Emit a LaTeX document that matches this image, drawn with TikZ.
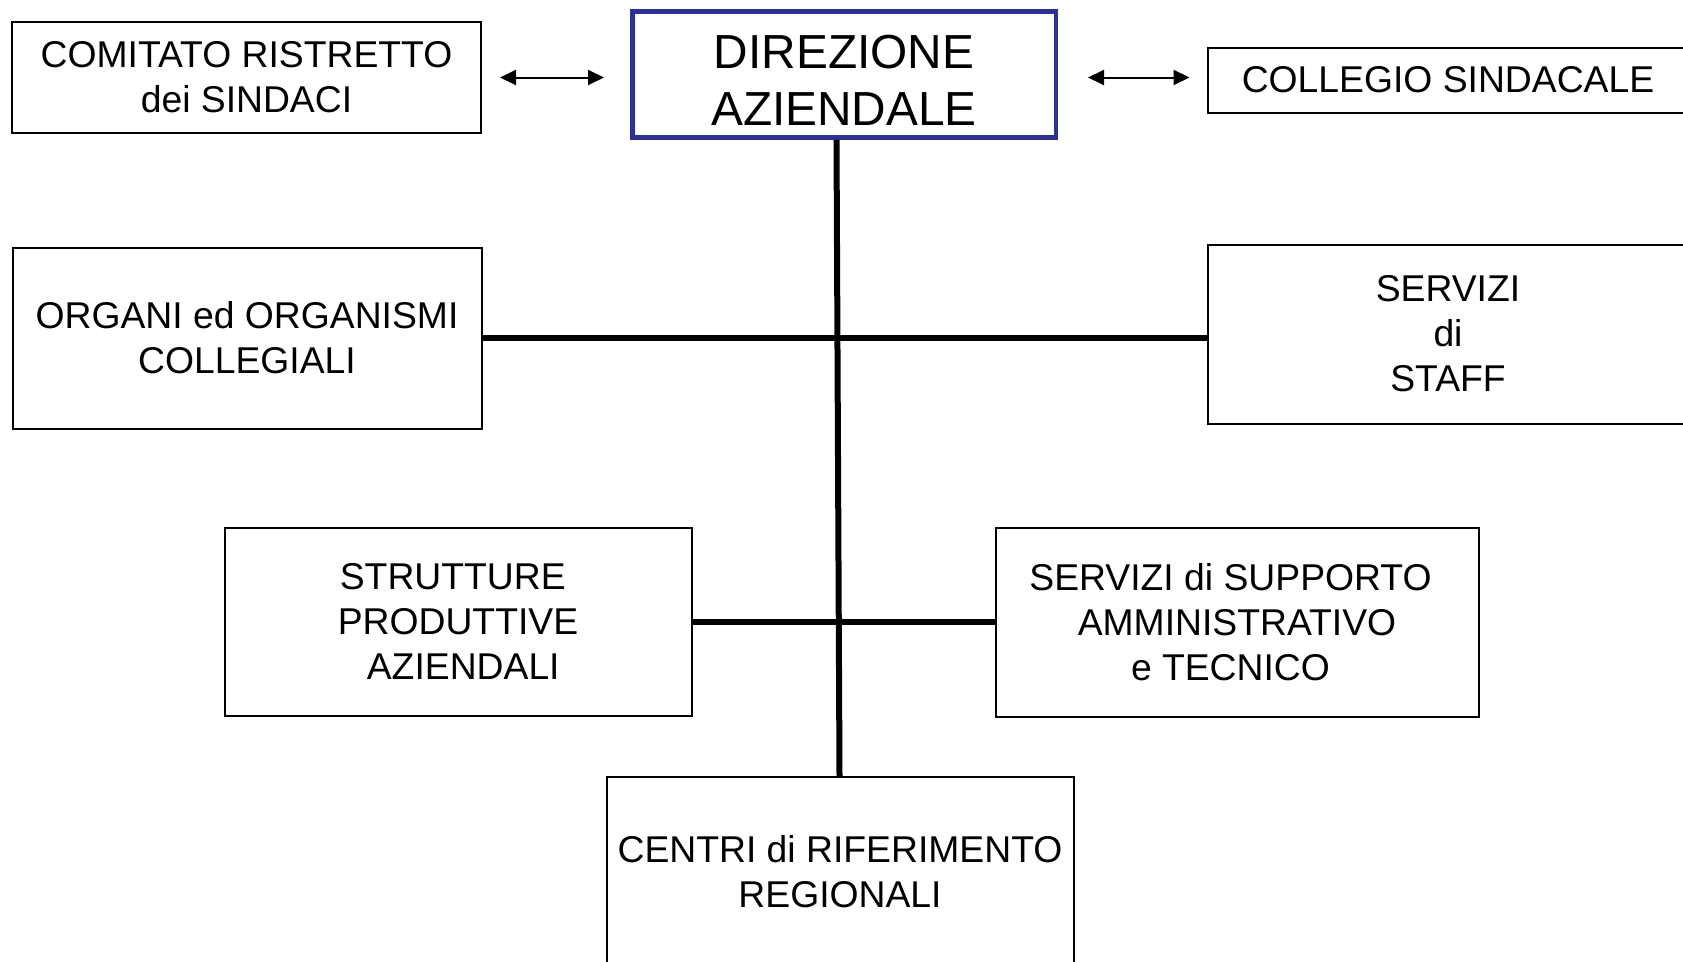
\documentclass[tikz,border=0pt]{standalone}
\usepackage{fontspec}
\setmainfont{Liberation Sans}
\usetikzlibrary{arrows.meta,calc}
\definecolor{navyline}{RGB}{46,49,146}
\begin{document}
\begin{tikzpicture}[x=1pt,y=-1pt,
  box/.style={draw, line width=2pt, inner sep=0pt, align=center,
    font=\fontsize{37.3}{45}\selectfont},
  mainbox/.style={draw=navyline, line width=4.5pt, inner sep=0pt, align=center,
    font=\fontsize{47.8}{57}\selectfont},
  conn/.style={line width=6pt},
  arr/.style={line width=2pt,
    {Triangle[length=16pt,width=15pt]}-{Triangle[length=16pt,width=15pt]}}]
\useasboundingbox (0,0) rectangle (1683,961);

\node[mainbox, minimum width=423.5pt, minimum height=126pt] (dir) at (844,74.7)
  {\rule{0pt}{45pt}DIREZIONE\\AZIENDALE};
\node[box, minimum width=469pt, minimum height=111pt] (com) at (246.5,77.5)
  {COMITATO RISTRETTO\\dei SINDACI};
\node[box, minimum width=481pt, minimum height=65pt] (col) at (1448,80)
  {COLLEGIO SINDACALE};
\node[box, minimum width=469pt, minimum height=181pt] (org) at (247,338)
  {ORGANI ed ORGANISMI\\COLLEGIALI};
\node[box, minimum width=481pt, minimum height=179pt] (staff) at (1448,334)
  {SERVIZI\\di\\STAFF};
\node[box, minimum width=467pt, minimum height=188pt] (str) at (458,621.5)
  {STRUTTURE\kern0.28em\\PRODUTTIVE\\\kern0.28em AZIENDALI};
\node[box, minimum width=483pt, minimum height=189pt] (sup) at (1237,622)
  {SERVIZI di SUPPORTO\kern0.35em\\AMMINISTRATIVO\\e TECNICO\kern0.35em};
\node[box, minimum width=467pt, minimum height=190pt] (cen) at (840,872)
  {CENTRI di RIFERIMENTO\\REGIONALI};

\draw[conn] ([xshift=-7.5pt]dir.south) -- ([xshift=-0.5pt]cen.north);
\draw[conn] (org.east) -- (org.east -| staff.west);
\draw[conn] (str.east) -- (str.east -| sup.west);

\draw[arr, shorten <=18pt, shorten >=26pt] (com.east) -- (com.east -| dir.west);
\draw[arr, shorten <=30pt, shorten >=17pt] (dir.east |- com.east) -- (col.west |- com.east);
\end{tikzpicture}
\end{document}
